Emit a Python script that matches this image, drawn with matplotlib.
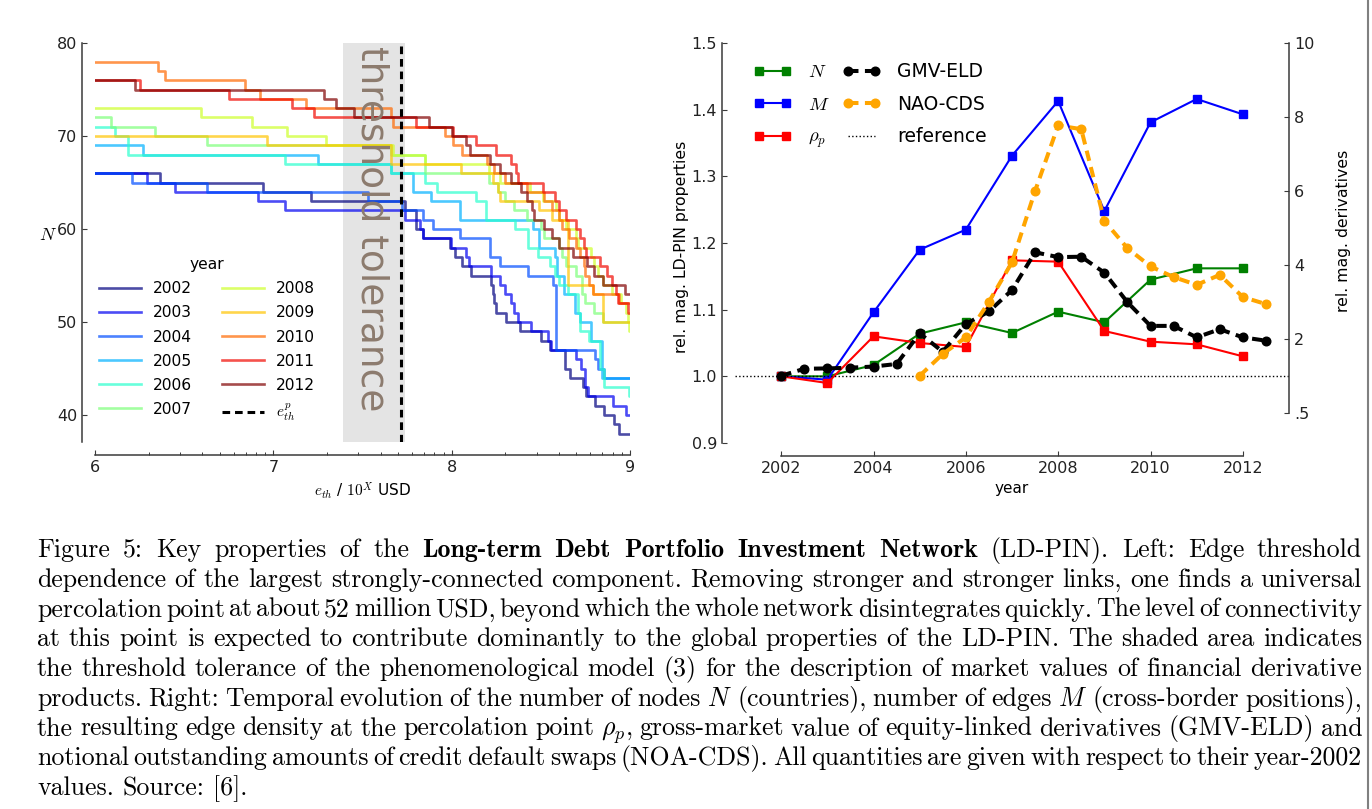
import numpy as np
import matplotlib
matplotlib.use("Agg")
import matplotlib.pyplot as plt
from matplotlib.lines import Line2D
from matplotlib.ticker import FixedLocator, FuncFormatter, LogLocator, NullFormatter

plt.rcParams["mathtext.fontset"] = "cm"
plt.rcParams["font.family"] = "DejaVu Sans"

# ---- left panel: N of largest SCC vs edge threshold (log10 USD), step starts
years = [2002, 2003, 2004, 2005, 2006, 2007, 2008, 2009, 2010, 2011, 2012]

thr_2002 = [6.0, 6.364, 6.943, 7.214, 7.737, 7.80, 7.84, 7.99, 8.017, 8.06, 8.11, 8.22, 8.23, 8.24, 8.25,
            8.306, 8.381, 8.502, 8.549, 8.633, 8.661, 8.736, 8.755, 8.801, 8.857, 8.913, 8.941]
n_2002 = [66, 65, 64, 63, 62, 60, 59, 58, 57, 56, 55, 54, 53, 52, 51,
          50, 49, 48, 47, 45, 44, 43, 42, 41, 40, 39, 38]
thr_2003 = [6.0, 6.289, 6.448, 6.915, 7.064, 7.737, 7.82, 7.84, 7.995, 8.08, 8.10, 8.22, 8.27, 8.30, 8.33,
            8.35, 8.372, 8.446, 8.54, 8.558, 8.698, 8.727, 8.745, 8.75, 8.764, 8.904, 8.978]
n_2003 = [66, 65, 64, 63, 62, 61, 60, 59, 58, 57, 56, 55, 54, 53, 52,
          51, 50, 49, 48, 47, 46, 45, 44, 43, 42, 41, 40]
thr_2004 = [6.0, 6.205, 6.626, 7.53, 7.72, 7.84, 7.896, 8.045, 8.213, 8.269, 8.428, 8.568, 8.585, 8.801, 8.82, 8.857]
n_2004 = [66, 65, 64, 63, 62, 61, 60, 59, 57, 56, 55, 54, 47, 46, 45, 44]
thr_2005 = [6.0, 6.271, 7.251, 7.66, 7.784, 7.886, 8.045, 8.456, 8.49, 8.577, 8.59, 8.63, 8.69, 8.717, 8.78, 8.845]
n_2005 = [69, 68, 67, 66, 64, 63, 61, 60, 58, 57, 55, 53, 51, 50, 48, 44]
thr_2006 = [6.0, 6.112, 6.187, 7.064, 7.66, 7.85, 7.92, 8.138, 8.194, 8.353, 8.428, 8.484, 8.55, 8.58, 8.60,
            8.65, 8.71, 8.72, 8.77, 8.83, 8.857, 8.995]
n_2006 = [71, 70, 68, 67, 66, 65, 64, 63, 61, 60, 58, 57, 56, 55, 54,
          53, 51, 49, 48, 45, 43, 42]
thr_2007 = [6.0, 6.09, 6.336, 6.626, 7.66, 7.85, 8.21, 8.26, 8.30, 8.35, 8.42, 8.50, 8.52, 8.60, 8.62,
            8.64, 8.70, 8.73, 8.75, 8.80, 8.848]
n_2007 = [72, 71, 70, 69, 68, 66, 65, 64, 63, 62, 61, 60, 59, 58, 57,
          56, 55, 53, 52, 51, 50]
thr_2008 = [6.0, 6.592, 6.883, 7.077, 7.298, 7.67, 7.85, 8.21, 8.27, 8.437, 8.51, 8.585, 8.60, 8.64, 8.70,
            8.71, 8.78, 8.80, 8.82, 8.85, 8.90, 8.95, 8.98, 8.99, 8.995]
n_2008 = [73, 72, 71, 70, 69, 68, 67, 66, 65, 64, 63, 62, 61, 60, 59,
          58, 57, 56, 55, 54, 53, 52, 51, 50, 49]
thr_2009 = [6.0, 6.962, 7.66, 8.054, 8.23, 8.26, 8.27, 8.49, 8.56, 8.65, 8.79, 8.848]
n_2009 = [70, 69, 67, 66, 65, 64, 63, 62, 61, 54, 53, 50]
thr_2010 = [6.0, 6.355, 6.392, 6.84, 6.924, 7.182, 7.66, 7.67, 7.96, 8.01, 8.06, 8.20, 8.24, 8.30, 8.42,
            8.52, 8.56, 8.60, 8.62, 8.66, 8.70, 8.72, 8.74, 8.75, 8.77, 8.79, 8.94]
n_2010 = [78, 77, 76, 75, 74, 73, 72, 71, 70, 69, 68, 67, 66, 65, 64,
          63, 62, 61, 60, 59, 58, 57, 56, 55, 54, 53, 52]
thr_2011 = [6.0, 6.252, 6.753, 7.102, 7.227, 7.80, 8.008, 8.138, 8.25, 8.334, 8.36, 8.37, 8.51, 8.577, 8.60,
            8.64, 8.70, 8.72, 8.74, 8.754, 8.83, 8.87, 8.90, 8.92, 8.93, 8.99]
n_2011 = [76, 75, 74, 73, 72, 71, 70, 69, 68, 67, 66, 65, 64, 63, 62,
          61, 60, 59, 58, 57, 56, 55, 54, 53, 52, 51]
thr_2012 = [6.0, 6.224, 7.285, 7.354, 7.45, 7.873, 8.0, 8.082, 8.101, 8.213, 8.27, 8.33, 8.39, 8.42, 8.45,
            8.46, 8.52, 8.56, 8.60, 8.68, 8.76, 8.80, 8.85, 8.97]
n_2012 = [76, 75, 74, 73, 72, 71, 70, 69, 68, 67, 66, 65, 64, 63, 62,
          61, 60, 59, 58, 57, 56, 55, 54, 53]

thr_all = [thr_2002, thr_2003, thr_2004, thr_2005, thr_2006, thr_2007,
           thr_2008, thr_2009, thr_2010, thr_2011, thr_2012]
n_all = [n_2002, n_2003, n_2004, n_2005, n_2006, n_2007,
         n_2008, n_2009, n_2010, n_2011, n_2012]

thr_max = 9.0
tol_lo, tol_hi = 7.39, 7.737     # shaded threshold tolerance (log10 USD)
e_th_p = 7.716                   # percolation point, ~52 million USD

# ---- right panel
years_r = [2002, 2003, 2004, 2005, 2006, 2007, 2008, 2009, 2010, 2011, 2012]
N_rel = [1.0, 1.0, 1.017, 1.064, 1.081, 1.065, 1.097, 1.081, 1.145, 1.162, 1.162]
M_rel = [1.0, 0.995, 1.096, 1.19, 1.22, 1.331, 1.413, 1.248, 1.381, 1.416, 1.393]
rho_rel = [1.0, 0.99, 1.06, 1.05, 1.044, 1.174, 1.172, 1.068, 1.052, 1.048, 1.030]

gmv_x = [2002.0, 2002.5, 2003.0, 2003.5, 2004.0, 2004.5, 2005.0, 2005.5, 2006.0, 2006.5, 2007.0,
         2007.5, 2008.0, 2008.5, 2009.0, 2009.5, 2010.0, 2010.5, 2011.0, 2011.5, 2012.0, 2012.5]
gmv = [1.0, 1.19, 1.20, 1.22, 1.25, 1.32, 2.15, 1.65, 2.40, 2.74, 3.32,
       4.34, 4.21, 4.22, 3.79, 2.99, 2.35, 2.35, 2.04, 2.26, 2.04, 1.95]
nao_x = [2005.0, 2005.5, 2006.0, 2006.5, 2007.0, 2007.5, 2008.0, 2008.5,
         2009.0, 2009.5, 2010.0, 2010.5, 2011.0, 2011.5, 2012.0, 2012.5]
nao = [1.0, 1.59, 2.04, 3.0, 4.07, 6.0, 7.77, 7.67,
       5.19, 4.45, 3.96, 3.67, 3.46, 3.73, 3.13, 2.94]

left_ticks = [0.9, 1.0, 1.1, 1.2, 1.3, 1.4, 1.5]
right_ticks = [0, 2, 4, 6, 8, 10]
right_labels = [".5", "2", "4", "6", "8", "10"]
year_ticks = [2002, 2004, 2006, 2008, 2010, 2012]

caption = [
    [("Figure 5: Key properties of the", "n"), ("Long-term Debt Portfolio Investment Network", "b"),
     ("(LD-PIN). Left: Edge threshold", "n")],
    [("dependence of the largest strongly-connected component. Removing stronger and stronger links, one finds a universal", "n")],
    [("percolation point at about 52 million USD, beyond which the whole network disintegrates quickly. The level of connectivity", "n")],
    [("at this point is expected to contribute dominantly to the global properties of the LD-PIN. The shaded area indicates", "n")],
    [("the threshold tolerance of the phenomenological model (3) for the description of market values of financial derivative", "n")],
    [("products. Right: Temporal evolution of the number of nodes $N$ (countries), number of edges $M$ (cross-border positions),", "n")],
    [("the resulting edge density at the percolation point $\\rho_p$, gross-market value of equity-linked derivatives (GMV-ELD) and", "n")],
    [("notional outstanding amounts of credit default swaps (NOA-CDS). All quantities are given with respect to their year-2002", "n")],
    [("values. Source: [6].", "n")],
]

W, H = 1372, 809
fig = plt.figure(figsize=(W / 100, H / 100), dpi=100)


def box(l, t, r, b):
    return [l / W, 1 - b / H, (r - l) / W, (b - t) / H]


spine_col = "#3a3a3a"
off = 9.4  # points, spines pushed outward

# ================= left panel =================
ax1 = fig.add_axes(box(95, 43, 630, 442))
ax1.axvspan(10 ** tol_lo, 10 ** tol_hi, color="#e4e4e4", lw=0, zorder=0)
cmap = plt.get_cmap("jet")
for i, yr in enumerate(years):
    xs = 10 ** np.array(thr_all[i] + [thr_max])
    ys = n_all[i] + [n_all[i][-1]]
    ax1.step(xs, ys, where="post", color=cmap(i / 10), alpha=0.7, lw=1.9, label=str(yr))
ax1.axvline(10 ** e_th_p, color="k", lw=2.2, ls=(0, (2.5, 1.6)), label="$e_{th}^p$")
ax1.text(10 ** 7.553, 79.7, "threshold tolerance", rotation=270, ha="center", va="top",
         fontsize=27, color="#8c7b6e", zorder=5)

ax1.set_xscale("log")
ax1.set_xlim(1e6, 1e9)
ax1.set_ylim(37.1, 80)
ax1.xaxis.set_major_locator(FixedLocator([1e6, 1e7, 1e8, 1e9]))
ax1.xaxis.set_major_formatter(FuncFormatter(lambda v, p: "%d" % round(np.log10(v))))
ax1.xaxis.set_minor_locator(LogLocator(base=10, subs=np.arange(2, 10)))
ax1.xaxis.set_minor_formatter(NullFormatter())
ax1.set_yticks([40, 50, 60, 70, 80])

ax1.spines["right"].set_visible(False)
ax1.spines["top"].set_visible(False)
for s in ["left", "bottom"]:
    ax1.spines[s].set_position(("outward", off))
    ax1.spines[s].set_color(spine_col)
    ax1.spines[s].set_linewidth(1.1)
ax1.tick_params(which="major", direction="in", length=3.6, width=0.8, labelsize=11.5, colors=spine_col,
                labelcolor="#222222", top=False, right=False)
ax1.tick_params(which="minor", direction="in", length=2.2, width=0.7, colors=spine_col, top=False)
ax1.set_ylabel("$N$", rotation=0, fontsize=13, ha="center", va="center")
ax1.yaxis.set_label_coords(-0.088, 0.52)
ax1.set_xlabel("$e_{th}$ / $10^X$ USD", fontsize=11)

leg1 = ax1.legend(ncol=2, title="year", frameon=False, fontsize=11.2, title_fontsize=11.2,
                  loc="lower left", bbox_to_anchor=(-0.012, 0.02), handlelength=2.7,
                  handletextpad=0.75, columnspacing=1.9, labelspacing=0.58, borderpad=0.2)

# ================= right panel =================
ax2 = fig.add_axes(box(735, 43, 1289, 443))
ax3 = ax2.twinx()

hN, = ax2.plot(years_r, N_rel, "-s", color="green", lw=1.5, ms=6, mec="green", label="$N$")
hM, = ax2.plot(years_r, M_rel, "-s", color="blue", lw=1.5, ms=6, mec="blue", label="$M$")
hR, = ax2.plot(years_r, rho_rel, "-s", color="red", lw=1.5, ms=6, mec="red", label="$\\rho_p$")
hRef = ax2.axhline(1.0, color="k", ls=":", lw=1.0, label="reference")

hG, = ax3.plot(gmv_x, gmv, "o", color="black", ls=(0, (2.6, 1.6)), lw=2.9, ms=6.2, label="GMV-ELD")
hC, = ax3.plot(nao_x, nao, "o", color="orange", ls=(0, (2.6, 1.6)), lw=2.9, ms=6.2, mec="orange",
               label="NAO-CDS")

ax2.set_xlim(2001, 2013)
ax2.set_ylim(0.9, 1.5)
ax3.set_ylim(-0.817, 10)
ax2.set_xticks(year_ticks)
ax2.set_yticks(left_ticks)
ax2.set_yticklabels(["%.1f" % v for v in left_ticks])
ax3.set_yticks(right_ticks)
ax3.set_yticklabels(right_labels)

for s in ["top", "right"]:
    ax2.spines[s].set_visible(False)
for s in ["left", "bottom"]:
    ax2.spines[s].set_position(("outward", off))
    ax2.spines[s].set_color(spine_col)
    ax2.spines[s].set_linewidth(1.1)
ax2.spines["bottom"].set_bounds(2002, 2012)
for s in ["top", "left", "bottom"]:
    ax3.spines[s].set_visible(False)
ax3.spines["right"].set_bounds(0, 10)
ax3.spines["right"].set_color(spine_col)
ax3.spines["right"].set_linewidth(1.1)

ax2.tick_params(direction="in", length=3.6, width=0.8, labelsize=11.5, colors=spine_col,
                labelcolor="#222222", top=False, right=False)
ax3.tick_params(direction="in", length=3.6, width=0.8, labelsize=11.5, colors=spine_col,
                labelcolor="#222222")
ax2.set_ylabel("rel. mag. LD-PIN properties", fontsize=11.3)
ax2.yaxis.set_label_coords(-0.083, 0.49)
ax3.set_ylabel("rel. mag. derivatives", fontsize=11.3)
ax3.yaxis.set_label_coords(1.085, 0.53)
ax2.set_xlabel("year", fontsize=11)

ax3.legend([hN, hM, hR, hG, hC, hRef], ["$N$", "$M$", "$\\rho_p$", "GMV-ELD", "NAO-CDS", "reference"],
           ncol=2, numpoints=2, frameon=False, fontsize=13.5, loc="upper left",
           bbox_to_anchor=(0.01, 0.985), handlelength=2.0, handletextpad=0.9,
           columnspacing=0.7, labelspacing=0.72, borderpad=0.2)

# ================= caption (justified word by word) =================
r = fig.canvas.get_renderer()
cap_size = 18.6
x_left, x_right = 37, 1362
base0, step = 557, 29.75
for li, line in enumerate(caption):
    words = []
    for seg, sty in line:
        for w in seg.split():
            words.append((w, sty))
    arts = []
    for w, sty in words:
        fam = "cmb10" if sty == "b" else "cmr10"
        t = fig.text(0, 1 - (base0 + li * step) / H, w, fontfamily=fam, fontsize=cap_size,
                     va="baseline", ha="left", color="black")
        arts.append(t)
    widths = [a.get_window_extent(renderer=r).width for a in arts]
    if li == len(caption) - 1:
        gap = 0.33 * cap_size * 100 / 72
    else:
        gap = (x_right - x_left - sum(widths)) / (len(arts) - 1)
    x = x_left
    for a, wd in zip(arts, widths):
        a.set_x(x / W)
        x += wd + gap

# page frame line on the right edge
fig.add_artist(Line2D([1368 / W, 1368 / W], [0, 1], transform=fig.transFigure, color="#808080", lw=1.5))

fig.savefig("out.png", dpi=100, facecolor="white")
